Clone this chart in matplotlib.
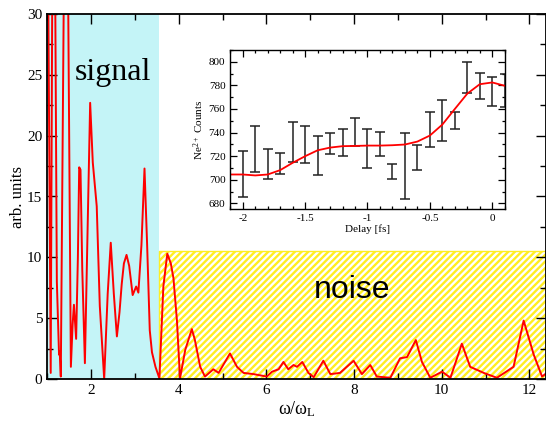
import matplotlib
matplotlib.use("Agg")
import matplotlib.pyplot as plt
import numpy as np

plt.rcParams['font.family'] = ['Liberation Serif', 'DejaVu Serif']
plt.rcParams['mathtext.fontset'] = 'custom'
plt.rcParams['mathtext.rm'] = 'Liberation Serif'
plt.rcParams['hatch.linewidth'] = 1.7

# spectrum, omega/omega_L vs arb. units (peaks above 30 are clipped in the plot)
omega = [1.00, 1.08, 1.13, 1.17, 1.22, 1.27, 1.285, 1.31, 1.43, 1.54, 1.58, 1.61,
         1.66, 1.70, 1.73, 1.76, 1.80, 1.86, 1.92, 1.98, 2.04, 2.13, 2.20, 2.30,
         2.38, 2.45, 2.52, 2.59, 2.65, 2.70, 2.75, 2.81, 2.87, 2.95, 3.03, 3.08,
         3.15, 3.22, 3.28, 3.34, 3.39, 3.47, 3.56,
         3.65, 3.74, 3.82, 3.88, 3.96, 4.03, 4.15, 4.30, 4.37, 4.49, 4.60, 4.79,
         4.91, 5.17, 5.33, 5.48, 5.71, 6.01, 6.13, 6.28, 6.39, 6.50, 6.62, 6.70,
         6.82, 6.96, 7.08, 7.30, 7.46, 7.68, 7.99, 8.18, 8.37, 8.52, 8.83, 9.05,
         9.21, 9.41, 9.55, 9.74, 10.01, 10.20, 10.46, 10.65, 10.96, 11.26, 11.64,
         11.87, 12.10, 12.29, 12.40]
spec = [45.0, 0.5, 45.0, 40.0, 8.0, 2.0, 2.3, 0.2, 55.0, 1.0, 4.5, 6.1,
        3.3, 10.0, 17.4, 17.2, 9.0, 1.3, 12.0, 22.7, 17.8, 14.2, 6.0, 0.0,
        7.0, 11.2, 7.0, 3.5, 5.5, 7.8, 9.5, 10.2, 9.3, 6.9, 7.6, 7.1,
        11.0, 17.3, 11.0, 4.0, 2.2, 1.0, 0.05,
        7.6, 10.3, 9.5, 8.3, 4.8, 0.05, 2.4, 4.1, 3.2, 1.0, 0.2, 0.8,
        0.5, 2.1, 1.0, 0.5, 0.4, 0.2, 0.6, 0.8, 1.4, 0.8, 1.15, 1.0,
        1.4, 0.5, 0.15, 1.5, 0.4, 0.5, 1.5, 0.4, 1.15, 0.2, 0.1, 1.7,
        1.8, 3.2, 1.4, 0.1, 0.6, 0.1, 2.9, 1.0, 0.5, 0.1, 1.0,
        4.8, 2.0, 0.2, 0.5]

# inset: Ne2+ counts vs delay
delay = [-2.0, -1.9, -1.8, -1.7, -1.6, -1.5, -1.4, -1.3, -1.2, -1.1, -1.0,
         -0.9, -0.8, -0.7, -0.6, -0.5, -0.4, -0.3, -0.2, -0.1, 0.0, 0.1]
counts = [705.1, 726.1, 713.7, 713.5, 731.9, 729.9, 720.6, 730.7, 731.5, 740.5, 726.5,
          730.4, 706.8, 711.4, 718.7, 742.5, 750.3, 750.1, 786.6, 779.4, 774.6, 776.0]
counts_err = [19.7, 19.3, 12.6, 9.0, 16.9, 15.5, 16.9, 9.0, 11.5, 11.5, 16.6,
              10.4, 6.2, 28.0, 10.5, 14.6, 17.0, 7.0, 13.4, 11.0, 12.4, 14.0]
fit_delay = [-2.1, -2.0, -1.9, -1.8, -1.7, -1.6, -1.5, -1.4, -1.3, -1.2, -1.1,
             -1.0, -0.9, -0.8, -0.7, -0.6, -0.5, -0.4, -0.3, -0.2, -0.1, 0.0, 0.1]
fit_counts = [704.5, 704.5, 703.7, 704.5, 708.2, 714.4, 720.0, 725.0, 727.3, 728.5, 728.7,
              729.0, 729.0, 729.3, 729.9, 732.4, 737.5, 746.8, 760.0, 773.0, 781.0, 782.5, 779.7]

signal_end = 3.56
noise_top = 10.5

fig = plt.figure(figsize=(5.46, 4.23), dpi=100)
ax = fig.add_axes([47.2 / 546, 1 - 379 / 423, 1 - 47.2 / 546, 365 / 423])

ax.fill_between([1.0, signal_end], 0, 30, facecolor='#c4f4f7', linewidth=0, zorder=1)
ax.fill_between([signal_end, 12.6], 0, noise_top, facecolor='white', edgecolor='#ffee22',
                hatch='/////', linewidth=1.0, zorder=1)
ax.plot(omega, spec, color='red', lw=1.4, zorder=3)

ax.set_xlim(1.0, 12.38)
ax.set_ylim(0, 30)
ax.set_xticks([2, 4, 6, 8, 10, 12])
ax.set_xticks(np.arange(1, 13, 1), minor=True)
ax.set_yticks(np.arange(0, 31, 5))
ax.set_yticks(np.arange(0, 31, 2.5), minor=True)
ax.tick_params(which='both', direction='in', top=True, right=True, labelsize=11, width=1)
ax.tick_params(which='major', length=7)
ax.tick_params(which='minor', length=4)
for s in ax.spines.values():
    s.set_linewidth(1.3)
    s.set_zorder(5)
ax.set_xlabel(r'$\mathregular{\omega/\omega_L}$', fontsize=13, labelpad=2)
ax.set_ylabel('arb. units', fontsize=12, labelpad=1)

ax.text(2.5, 25.2, 'signal', fontsize=23, ha='center', va='center', zorder=4)
ax.text(7.96, 7.3, 'noise', fontsize=23, ha='center', va='center',
        family=['Liberation Sans', 'DejaVu Sans'], zorder=4)

# inset
ins = fig.add_axes([230.3 / 546, 1 - 209.3 / 423, 274.4 / 546, 159.3 / 423])
ins.errorbar(delay, counts, yerr=counts_err, fmt='none', ecolor='#222222',
             elinewidth=1.1, capsize=3.5, capthick=1.1)
ins.plot(fit_delay, fit_counts, color='red', lw=1.3)
ins.set_xlim(-2.1, 0.1)
ins.set_ylim(675, 810)
ins.set_xticks([-2, -1.5, -1, -0.5, 0])
ins.set_xticklabels(['-2', '-1.5', '-1', '-0.5', '0'])
ins.set_xticks(np.arange(-2.1, 0.11, 0.1), minor=True)
ins.set_yticks(np.arange(680, 801, 20))
ins.set_yticks(np.arange(680, 811, 10), minor=True)
ins.tick_params(which='both', direction='in', top=True, right=True, labelsize=8, width=0.9)
ins.tick_params(which='major', length=5)
ins.tick_params(which='minor', length=2.5)
for s in ins.spines.values():
    s.set_linewidth(1.0)
ins.set_xlabel('Delay [fs]', fontsize=8, labelpad=1)
ins.set_ylabel(r'$\mathregular{Ne^{2+}}$ Counts', fontsize=8, labelpad=2)

fig.savefig('out.png', dpi=100)
